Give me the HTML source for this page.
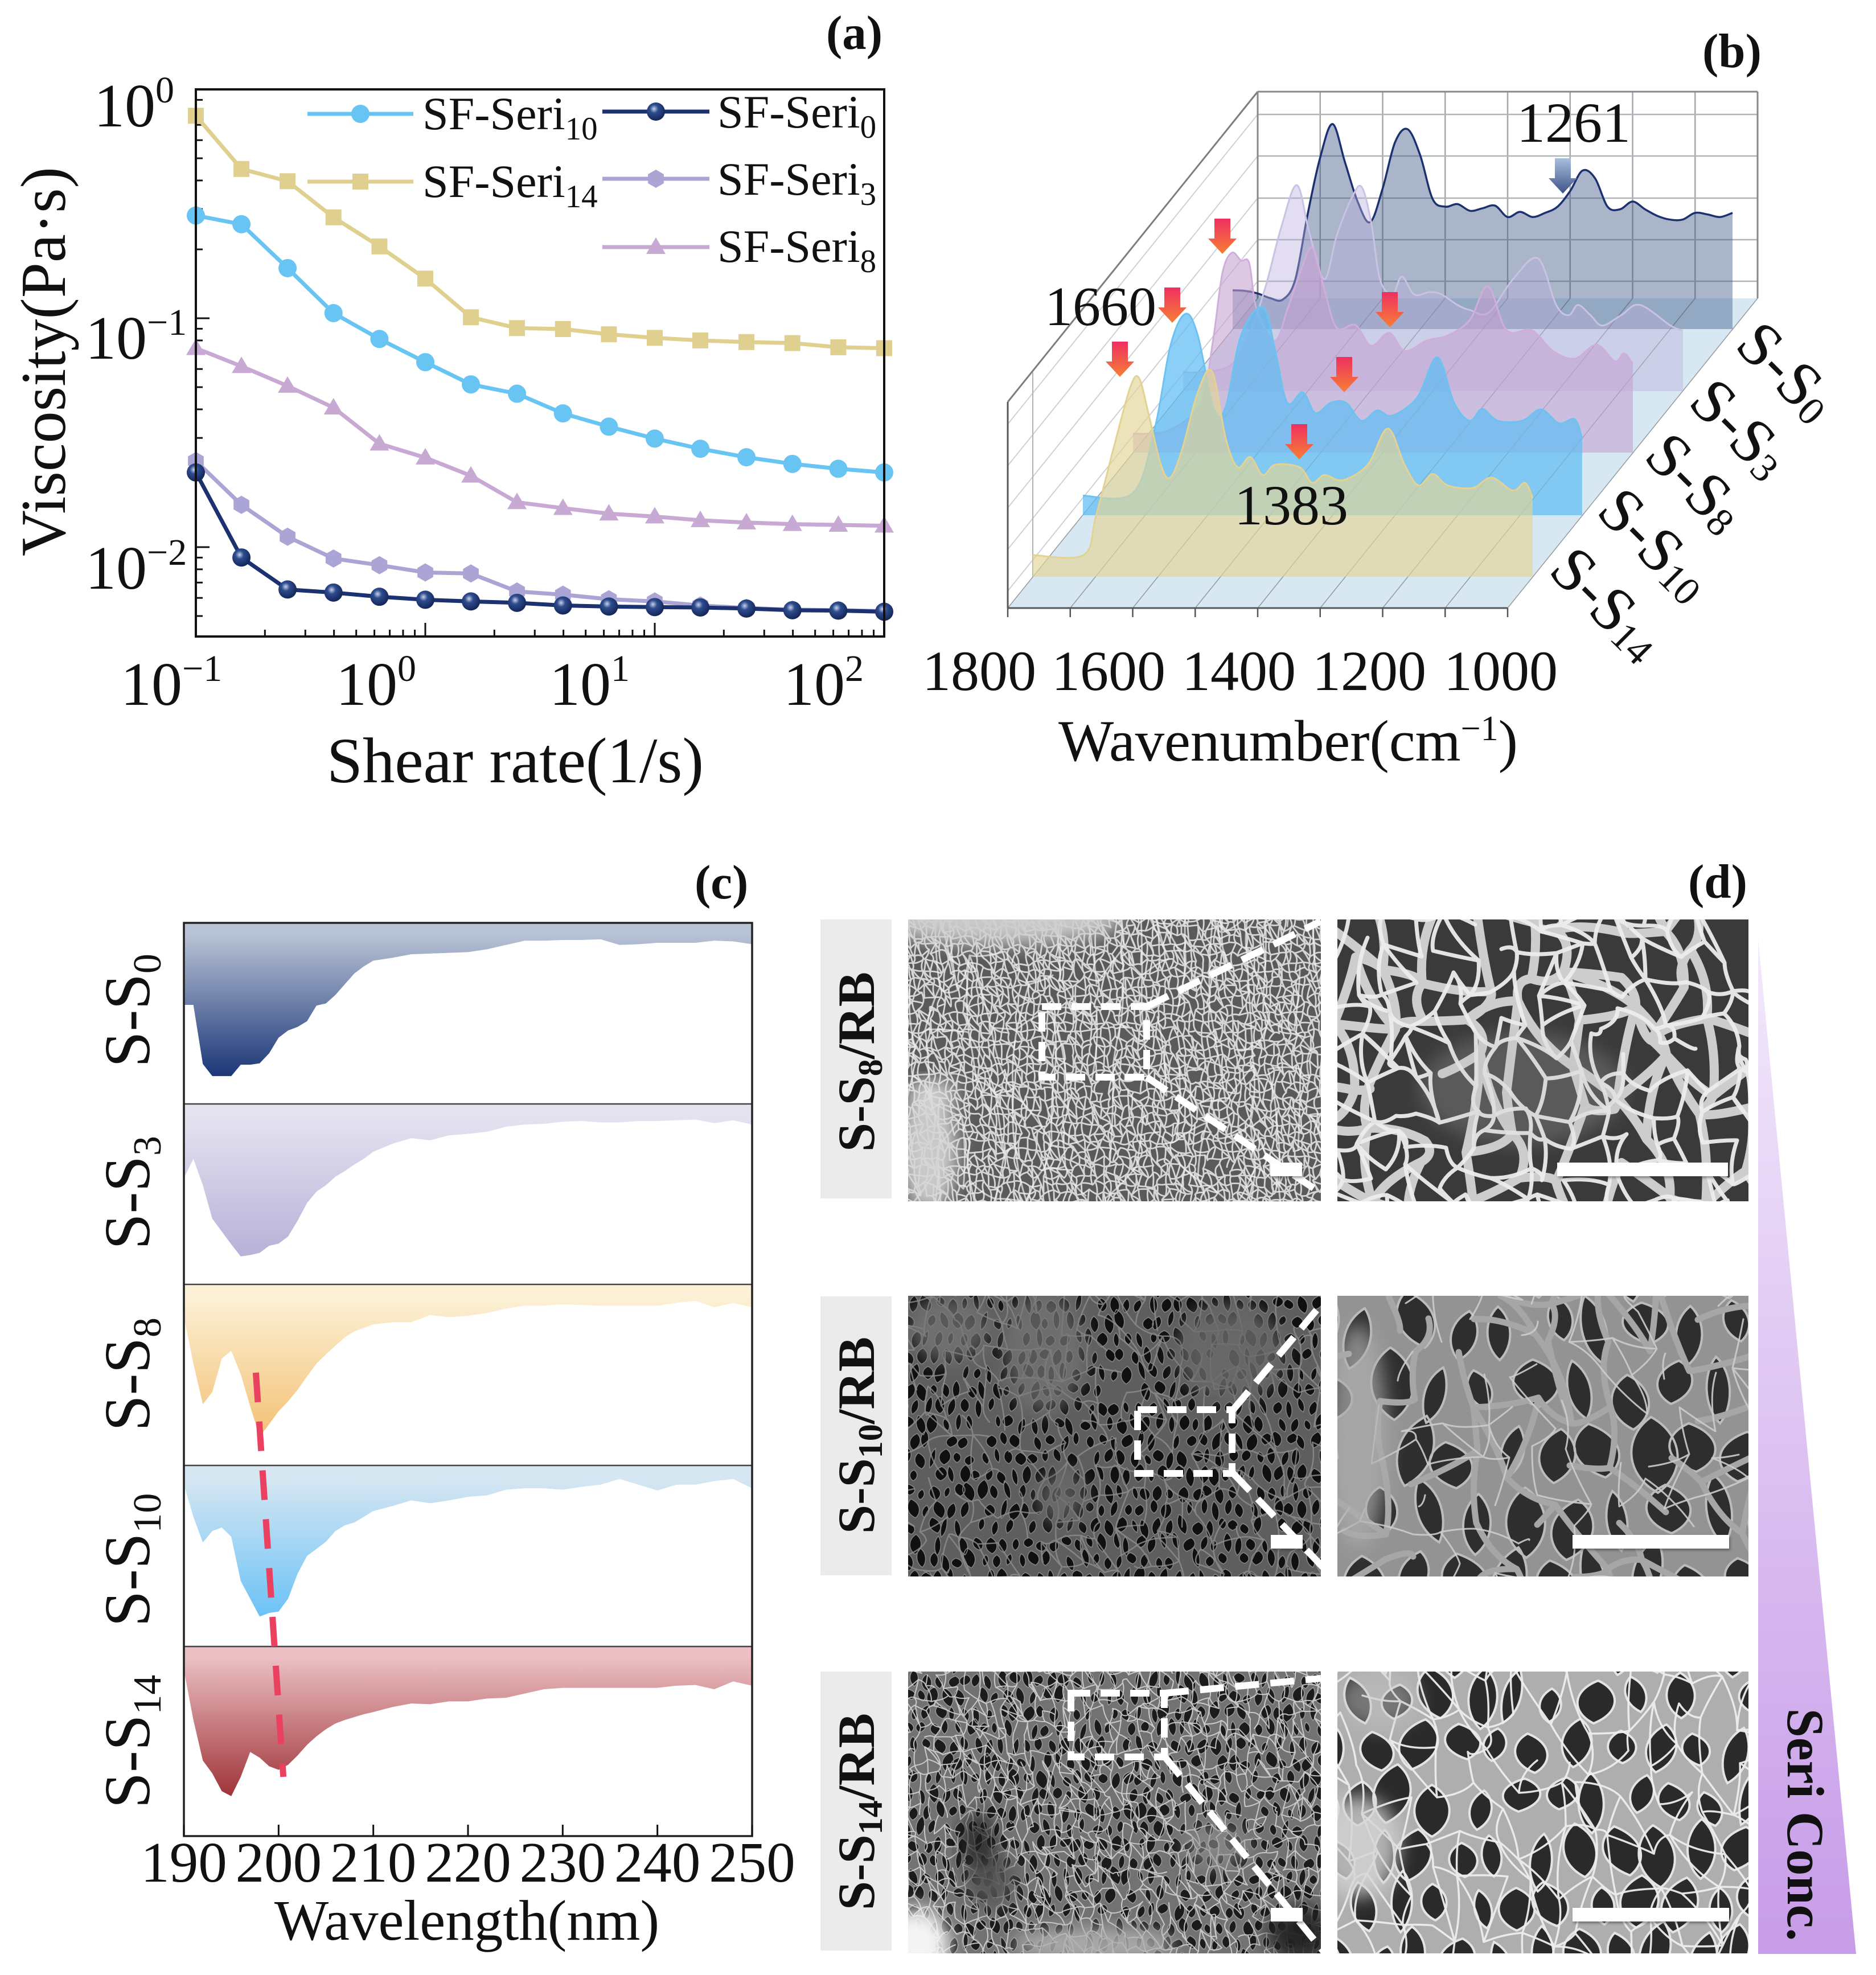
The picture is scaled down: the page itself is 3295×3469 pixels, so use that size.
<!DOCTYPE html>
<html lang="en">
<head>
<meta charset="utf-8">
<title>Silk fibroin sericin composite characterisation</title>
<style>
html,body{margin:0;padding:0;background:#fff;}
svg{display:block;}
text{font-family:"Liberation Serif",serif;fill:#111;}
</style>
</head>
<body>
<svg id="fig" xmlns="http://www.w3.org/2000/svg" width="3295" height="3469" viewBox="0 0 3295 3469">
<defs>
<radialGradient id="navyBall" cx="40%" cy="35%" r="65%"><stop offset="0" stop-color="#c8d2ea"/><stop offset="0.35" stop-color="#2e4c8e"/><stop offset="1" stop-color="#142659"/></radialGradient>
<linearGradient id="redArrow" x1="0" y1="0" x2="0" y2="1"><stop offset="0" stop-color="#ee3060"/><stop offset="1" stop-color="#f77f35"/></linearGradient>
<linearGradient id="blueArrow" x1="0" y1="0" x2="0" y2="1"><stop offset="0" stop-color="#a9bfdd"/><stop offset="1" stop-color="#3c5488"/></linearGradient>
<linearGradient id="wedgeFill" x1="0" y1="0" x2="0" y2="1"><stop offset="0" stop-color="#f2e9fb"/><stop offset="1" stop-color="#c79ce8"/></linearGradient>
<filter id="softBlur" x="-30%" y="-30%" width="160%" height="160%"><feGaussianBlur stdDeviation="16"/></filter>
<filter id="barShadow" x="-10%" y="-30%" width="120%" height="170%"><feDropShadow dx="2" dy="3" stdDeviation="2" flood-color="#333" flood-opacity="0.5"/></filter>
</defs>

<g id="panelA">
  <text x="1451" y="86" font-size="85" font-weight="bold">(a)</text>
  <g id="aPlot"></g>
  <rect x="344" y="157" width="1209" height="961" fill="none" stroke="#111" stroke-width="4"/>
  <text x="165" y="222" font-size="108">10<tspan dy="-42" font-size="66">0</tspan></text>
  <text x="150" y="630" font-size="108">10<tspan dy="-42" font-size="66">−1</tspan></text>
  <text x="150" y="1034" font-size="108">10<tspan dy="-42" font-size="66">−2</tspan></text>
  <text x="212" y="1238" font-size="108">10<tspan dy="-42" font-size="66">−1</tspan></text>
  <text x="590" y="1238" font-size="108">10<tspan dy="-42" font-size="66">0</tspan></text>
  <text x="965" y="1238" font-size="108">10<tspan dy="-42" font-size="66">1</tspan></text>
  <text x="1376" y="1238" font-size="108">10<tspan dy="-42" font-size="66">2</tspan></text>
  <text transform="translate(114,635) rotate(-90)" text-anchor="middle" font-size="112">Viscosity(Pa·s)</text>
  <text x="905" y="1374" text-anchor="middle" font-size="113">Shear rate(1/s)</text>
  <g id="aLegend">
    <text x="742" y="227" font-size="82">SF-Seri<tspan dy="18" font-size="57">10</tspan></text>
    <text x="742" y="346" font-size="82">SF-Seri<tspan dy="18" font-size="57">14</tspan></text>
    <text x="1260" y="224" font-size="82">SF-Seri<tspan dy="18" font-size="57">0</tspan></text>
    <text x="1260" y="342" font-size="82">SF-Seri<tspan dy="18" font-size="57">3</tspan></text>
    <text x="1260" y="460" font-size="82">SF-Seri<tspan dy="18" font-size="57">8</tspan></text>
  </g>
</g>

<g id="panelB">
  <text x="2990" y="118" font-size="85" font-weight="bold">(b)</text>
  <polygon points="1770,1068 2648,1068 3087,524 2209,524" fill="#d7e8f2"/>
  <g id="bGrid"></g>
  <g id="bSeries"></g>
  <g id="bArrows"></g>
  <text x="1835" y="571" font-size="98">1660</text>
  <text x="2664" y="249" font-size="100">1261</text>
  <text x="2168" y="921" font-size="100">1383</text>
  <text x="1620" y="1212" font-size="100">1800</text>
  <text x="1847" y="1212" font-size="100">1600</text>
  <text x="2076" y="1212" font-size="100">1400</text>
  <text x="2305" y="1212" font-size="100">1200</text>
  <text x="2536" y="1212" font-size="100">1000</text>
  <text x="1859" y="1336" font-size="103">Wavenumber(cm<tspan dy="-36" font-size="62">−1</tspan><tspan dy="36">)</tspan></text>
  <text transform="translate(3139,652) rotate(45)" text-anchor="middle" dominant-baseline="central" font-size="110">S-S<tspan dy="20" font-size="70">0</tspan></text>
  <text transform="translate(3057,752) rotate(45)" text-anchor="middle" dominant-baseline="central" font-size="110">S-S<tspan dy="20" font-size="70">3</tspan></text>
  <text transform="translate(2979,847) rotate(45)" text-anchor="middle" dominant-baseline="central" font-size="110">S-S<tspan dy="20" font-size="70">8</tspan></text>
  <text transform="translate(2908,956) rotate(45)" text-anchor="middle" dominant-baseline="central" font-size="110">S-S<tspan dy="20" font-size="70">10</tspan></text>
  <text transform="translate(2824,1060) rotate(45)" text-anchor="middle" dominant-baseline="central" font-size="110">S-S<tspan dy="20" font-size="70">14</tspan></text>
</g>

<g id="panelC">
  <text x="1220" y="1578" font-size="85" font-weight="bold">(c)</text>
  <g id="cPlot"></g>
  <text transform="translate(262,1775) rotate(-90)" text-anchor="middle" font-size="114">S-S<tspan dy="20" font-size="70">0</tspan></text>
  <text transform="translate(262,2095) rotate(-90)" text-anchor="middle" font-size="114">S-S<tspan dy="20" font-size="70">3</tspan></text>
  <text transform="translate(262,2414) rotate(-90)" text-anchor="middle" font-size="114">S-S<tspan dy="20" font-size="70">8</tspan></text>
  <text transform="translate(262,2740) rotate(-90)" text-anchor="middle" font-size="114">S-S<tspan dy="20" font-size="70">10</tspan></text>
  <text transform="translate(262,3059) rotate(-90)" text-anchor="middle" font-size="114">S-S<tspan dy="20" font-size="70">14</tspan></text>
  <text x="820" y="3407" text-anchor="middle" font-size="101">Wavelength(nm)</text>
</g>

<g id="panelD">
  <text x="2965" y="1577" font-size="85" font-weight="bold">(d)</text>
  <rect x="1441" y="1615" width="125" height="490" fill="#ebebeb"/>
  <rect x="1441" y="2277" width="125" height="490" fill="#ebebeb"/>
  <rect x="1441" y="2936" width="125" height="490" fill="#ebebeb"/>
  <text transform="translate(1535,1865) rotate(-90)" text-anchor="middle" font-size="92" font-weight="bold">S-S<tspan dy="14" font-size="60">8</tspan><tspan dy="-14">/RB</tspan></text>
  <text transform="translate(1535,2521) rotate(-90)" text-anchor="middle" font-size="92" font-weight="bold">S-S<tspan dy="14" font-size="60">10</tspan><tspan dy="-14">/RB</tspan></text>
  <text transform="translate(1535,3182) rotate(-90)" text-anchor="middle" font-size="92" font-weight="bold">S-S<tspan dy="14" font-size="60">14</tspan><tspan dy="-14">/RB</tspan></text>
  <g id="semImages"></g>
  <g fill="none" stroke="#fff" stroke-width="12">
    <rect x="1830" y="1768" width="184" height="124" stroke-dasharray="34 18"/>
    <line x1="2014" y1="1768" x2="2320" y2="1618" stroke-dasharray="42 20"/>
    <line x1="2014" y1="1892" x2="2345" y2="2112" stroke-dasharray="42 20"/>
    <rect x="1998" y="2476" width="166" height="112" stroke-dasharray="34 18"/>
    <line x1="2166" y1="2476" x2="2320" y2="2292" stroke-dasharray="42 20"/>
    <line x1="2166" y1="2588" x2="2345" y2="2775" stroke-dasharray="42 20"/>
    <rect x="1881" y="2974" width="164" height="112" stroke-dasharray="34 18"/>
    <line x1="2046" y1="2974" x2="2320" y2="2948" stroke-dasharray="42 20"/>
    <line x1="2046" y1="3086" x2="2325" y2="3428" stroke-dasharray="42 20"/>
  </g>
  <g fill="#fff" filter="url(#barShadow)">
    <rect x="2231" y="2042" width="56" height="24"/>
    <rect x="2735" y="2042" width="300" height="24"/>
    <rect x="2232" y="2696" width="56" height="24"/>
    <rect x="2762" y="2696" width="275" height="24"/>
    <rect x="2232" y="3351" width="56" height="24"/>
    <rect x="2762" y="3351" width="275" height="24"/>
  </g>
  <polygon points="3088,1650 3260,3432 3088,3432" fill="url(#wedgeFill)"/>
  <text transform="translate(3140,3205) rotate(90)" text-anchor="middle" font-size="92" font-weight="bold">Seri Conc.</text>
</g>

<script>
// ---------- Panel (a): viscosity vs shear rate ----------
const shearRates = [0.1,0.158,0.251,0.398,0.631,1,1.58,2.51,3.98,6.31,10,15.8,25.1,39.8,63.1,100];
const viscositySeri14 = [0.767,0.449,0.397,0.276,0.206,0.149,0.101,0.0906,0.0897,0.0851,0.0821,0.08,0.0787,0.0779,0.0747,0.074];
const viscositySeri10 = [0.281,0.2575,0.1656,0.1053,0.0812,0.0643,0.0514,0.0468,0.0384,0.0336,0.0298,0.0269,0.0247,0.0231,0.022,0.0212];
const viscositySeri8 = [0.074,0.0617,0.0506,0.0407,0.0283,0.0246,0.0205,0.0157,0.0148,0.014,0.0136,0.0131,0.0128,0.0126,0.0125,0.0124];
const viscositySeri3 = [0.0238,0.0153,0.0111,0.00892,0.00834,0.00775,0.00767,0.0064,0.0062,0.00592,0.00579,0.00556,0.00542,0.00533,0.0053,0.00525];
const viscositySeri0 = [0.0212,0.00901,0.00653,0.00633,0.00607,0.00589,0.00579,0.00571,0.00556,0.0055,0.00547,0.00545,0.00539,0.0053,0.00528,0.00522];

// ---------- Panel (b): FTIR waterfall (wavenumber / intensity pairs) ----------
const waveS0 = [1800,1780,1760,1740,1720,1700,1680,1660,1640,1620,1600,1580,1560,1540,1520,1500,1480,1460,1440,1420,1400,1380,1360,1340,1320,1300,1280,1260,1240,1220,1200,1180,1160,1140,1120,1100,1080,1060,1040,1020,1000];
const intensityS0 = [75,74,69,60,57,95,222,332,397,322,247,207,272,362,387,337,252,237,242,229,234,239,217,227,217,225,237,267,307,292,237,232,247,232,219,212,212,225,222,217,225];
const waveS3 = [1800,1771,1722,1692,1667,1643,1618,1598,1574,1554,1529,1514,1499,1485,1465,1450,1430,1405,1386,1361,1341,1311,1272,1232,1203,1183,1168,1148,1129,1099,1069,1020,1000];
const intensityS3 = [37,37,52,117,207,317,399,307,217,302,377,395,327,217,187,222,187,192,187,167,157,152,217,257,167,147,167,147,127,147,167,127,117];
const waveS8 = [1800,1775,1736,1691,1672,1657,1642,1627,1614,1602,1573,1553,1533,1513,1494,1474,1444,1419,1390,1365,1330,1296,1261,1232,1202,1162,1128,1093,1058,1029,1014,1000];
const intensityS8 = [37,37,47,97,217,347,387,372,367,277,217,277,347,397,317,242,247,207,232,197,217,227,257,322,237,237,197,182,209,177,192,172];
const waveS10 = [1800,1720,1685,1660,1636,1616,1591,1572,1547,1512,1492,1473,1448,1428,1403,1379,1354,1329,1305,1265,1233,1206,1181,1161,1136,1097,1067,1038,1013,1001];
const intensityS10 = [38,43,168,328,390,348,208,208,348,403,318,218,238,198,218,218,183,203,193,228,306,218,183,206,183,183,205,178,186,148];
const waveS14 = [1800,1719,1699,1669,1644,1630,1615,1595,1580,1561,1536,1513,1491,1472,1452,1432,1412,1373,1353,1333,1304,1264,1232,1205,1183,1160,1136,1096,1066,1032,1012,1000];
const intensityS14 = [42,42,117,257,367,385,317,217,192,247,357,397,267,212,232,197,217,212,182,197,187,217,287,217,177,199,177,172,192,167,182,152];
const ftirGridWavenumbers = [1800,1700,1600,1500,1400,1300,1200,1100,1000];

// ---------- Panel (c): CD spectra (depth below each row's baseline) ----------
const wavelengths = [190,191,192,193,194,195,196,197,198,199,200,201,202,203,204,205,206,207,208,209,210,212,214,216,218,220,222,224,226,228,230,232,234,236,238,240,242,244,246,248,250];
const cdS0 = [115,115,198,215,215,215,199,199,197,183,161,151,146,138,116,113,101,86,71,61,53,49,44,43,42,41,37,31,25,25,24,24,23,31,30,28,28,28,25,26,30];
const cdS3 = [104,77,114,161,179,197,214,212,209,199,196,186,164,139,123,114,102,94,85,77,67,56,48,51,44,42,39,32,29,28,25,24,26,26,24,24,23,22,27,23,29];
const cdS8 = [46,111,168,151,104,93,126,171,214,196,178,164,148,129,111,98,86,74,66,61,56,53,53,43,46,44,40,34,30,30,28,29,30,30,30,30,26,23,32,26,32];
const cdS10 = [27,72,108,92,87,100,162,187,212,207,205,187,152,127,117,107,92,84,80,72,64,57,49,53,49,44,42,34,32,32,34,30,27,19,27,35,27,27,22,19,32];
const cdS14 = [33,103,160,178,203,210,183,148,156,168,173,166,153,138,126,116,108,103,99,95,92,85,80,81,77,77,73,72,66,60,58,58,58,58,58,58,55,54,60,49,55];
const cdTickLabels = [190,200,210,220,230,240,250];
const cdPeakTrend = [197.6,200.5];

const NS = 'http://www.w3.org/2000/svg';
function mk(parent, tag, attrs) {
  const el = document.createElementNS(NS, tag);
  for (const k in attrs) el.setAttribute(k, attrs[k]);
  parent.appendChild(el);
  return el;
}

// ===== Panel A =====
const xA = v => 344 + (Math.log10(v) + 1) * 1209 / 3;
const yA = v => 157 - Math.log10(v) * 402;
const aPlot = document.getElementById('aPlot');
const aLegend = document.getElementById('aLegend');

function drawMarker(parent, kind, x, y, color) {
  let m;
  if (kind === 'circle') m = mk(parent, 'circle', {cx: x, cy: y, r: 16, fill: color});
  if (kind === 'ball') m = mk(parent, 'circle', {cx: x, cy: y, r: 16, fill: 'url(#navyBall)'});
  if (kind === 'square') m = mk(parent, 'rect', {x: x - 14, y: y - 14, width: 28, height: 28, fill: color});
  if (kind === 'triangle') m = mk(parent, 'polygon', {points: (x) + ',' + (y - 17) + ' ' + (x + 17) + ',' + (y + 12) + ' ' + (x - 17) + ',' + (y + 12), fill: color});
  if (kind === 'hexagon') m = mk(parent, 'polygon', {points: [0,1,2,3,4,5].map(i => (x + 16 * Math.sin(i * Math.PI / 3)) + ',' + (y - 16 * Math.cos(i * Math.PI / 3))).join(' '), fill: color});
  
  
}

const aSeries = [
  {vals: viscositySeri14, color: '#e0d08f', kind: 'square'},
  {vals: viscositySeri10, color: '#68c4f2', kind: 'circle'},
  {vals: viscositySeri8, color: '#c7a9d3', kind: 'triangle'},
  {vals: viscositySeri3, color: '#aaa5d4', kind: 'hexagon'},
  {vals: viscositySeri0, color: '#1b3170', kind: 'ball'}
];
[0.2,0.3,0.4,0.5,0.6,0.7,0.8,0.9,1,2,3,4,5,6,7,8,9,10,20,30,40,50,60,70,80,90].forEach(t => {
  const major = t === 1 || t === 10;
  const tick = mk(aPlot, 'line', {x1: xA(t), x2: xA(t), y1: 1118, y2: 1118 - (major ? 24 : 12), stroke: '#111', 'stroke-width': 3});
  
  
});
[0.9,0.8,0.7,0.6,0.5,0.4,0.3,0.2,0.1,0.09,0.08,0.07,0.06,0.05,0.04,0.03,0.02,0.01,0.009,0.008,0.007,0.006,0.005].forEach(t => {
  const major = t === 0.1 || t === 0.01;
  const tick = mk(aPlot, 'line', {x1: 344, x2: 344 + (major ? 24 : 12), y1: yA(t), y2: yA(t), stroke: '#111', 'stroke-width': 3});
  
  
});
aSeries.forEach(s => {
  const pts = s.vals.map((v, i) => xA(shearRates[i]) + ',' + yA(v)).join(' ');
  const line = mk(aPlot, 'polyline', {points: pts, fill: 'none', stroke: s.color, 'stroke-width': 7});
  
  
  s.vals.forEach((v, i) => drawMarker(aPlot, s.kind, xA(shearRates[i]), yA(v), s.color));
});
function legendKey(x1, x2, y, color, kind) {
  const l = mk(aLegend, 'line', {x1: x1, x2: x2, y1: y, y2: y, stroke: color, 'stroke-width': 7});
  
  
  drawMarker(aLegend, kind, (x1 + x2) / 2, y, color);
}
legendKey(540, 726, 200, '#68c4f2', 'circle');
legendKey(540, 726, 319, '#e0d08f', 'square');
legendKey(1058, 1246, 196, '#1b3170', 'ball');
legendKey(1058, 1246, 314, '#aaa5d4', 'hexagon');
legendKey(1058, 1246, 434, '#c7a9d3', 'triangle');

// ===== Panel B =====
const bGrid = document.getElementById('bGrid');
const bSeries = document.getElementById('bSeries');
const bArrows = document.getElementById('bArrows');
const xB = w => (1800 - w) / 800 * 878;
const kB = 0.907;
function gridLine(x1, y1, x2, y2, color, w) {
  const g = mk(bGrid, 'line', {x1: x1, y1: y1, x2: x2, y2: y2, stroke: color, 'stroke-width': w});
  
  
}
ftirGridWavenumbers.forEach(w => {
  gridLine(2209 + xB(w), 161, 2209 + xB(w), 524, '#a4a9ae', 2.5);
  gridLine(1770 + xB(w), 1068, 2209 + xB(w), 524, '#96999d', 1.5);
  gridLine(1770 + xB(w), 1068, 1770 + xB(w), 1084, '#555', 2.5);
});
[201,274,348,421,494].forEach(y => gridLine(2209, y, 3087, y, '#b0b5ba', 2.5));
[201,274,348,421,494].forEach(y => gridLine(2209, y, 1770, y + 544, '#cfd1d4', 2));
[161].forEach(y => gridLine(2209, y, 3087, y, '#85898d', 3));
gridLine(1770, 706, 2209, 161, '#7a7e82', 3);
gridLine(1770, 706, 1770, 1068, '#55585b', 3);
gridLine(3087, 161, 3087, 524, '#85898d', 3);
gridLine(2209, 161, 2209, 524, '#85898d', 3);
gridLine(1770, 1068, 2648, 1068, '#55585b', 3);
gridLine(1814, 654, 1814, 1013, '#b0b3b6', 2);

// Catmull-Rom spline through measured points
function splineThrough(pts) {
  let d = 'M' + pts[0][0].toFixed(1) + ' ' + pts[0][1].toFixed(1);
  for (let i = 0; i < pts.length - 1; i++) {
    const p0 = pts[Math.max(0, i - 1)], p1 = pts[i], p2 = pts[i + 1], p3 = pts[Math.min(pts.length - 1, i + 2)];
    const c1x = p1[0] + (p2[0] - p0[0]) / 6, c1y = p1[1] + (p2[1] - p0[1]) / 6;
    const c2x = p2[0] - (p3[0] - p1[0]) / 6, c2y = p2[1] - (p3[1] - p1[1]) / 6;
    d += 'C' + c1x.toFixed(1) + ' ' + c1y.toFixed(1) + ' ' + c2x.toFixed(1) + ' ' + c2y.toFixed(1) + ' ' + p2[0].toFixed(1) + ' ' + p2[1].toFixed(1);
  }
  return d;
}
const bData = [
  {wave: waveS0, vals: intensityS0, x0: 2165, base: 578, fill: 'rgba(52,78,128,0.42)', stroke: '#1b3170', sw: 3.5},
  {wave: waveS3, vals: intensityS3, x0: 2078, base: 687, fill: 'rgba(186,174,220,0.42)', stroke: '#c9c2e2', sw: 3},
  {wave: waveS8, vals: intensityS8, x0: 1990, base: 795, fill: 'rgba(197,160,208,0.58)', stroke: '#cfaedb', sw: 3},
  {wave: waveS10, vals: intensityS10, x0: 1902, base: 905, fill: 'rgba(96,188,242,0.72)', stroke: '#6cc3f2', sw: 3},
  {wave: waveS14, vals: intensityS14, x0: 1814, base: 1013, fill: 'rgba(226,212,150,0.66)', stroke: '#e3d291', sw: 3}
];
bData.forEach(s => {
  const pts = s.vals.map((h, i) => [s.x0 + xB(s.wave[i]), s.base - h * kB]);
  const curve = splineThrough(pts);
  const last = pts[pts.length - 1];
  const area = mk(bSeries, 'path', {d: curve + 'L' + last[0] + ' ' + s.base + 'L' + pts[0][0] + ' ' + s.base + 'Z', fill: s.fill});
  
  
  const line = mk(bSeries, 'path', {d: curve, fill: 'none', stroke: s.stroke, 'stroke-width': s.sw, 'stroke-linejoin': 'round'});
  
  
});
function arrow(cx, cy, fill) {
  const a = mk(bArrows, 'polygon', {points: [[-14,-31],[14,-31],[14,4],[25,4],[0,31],[-25,4],[-14,4]].map(p => (cx + p[0]) + ',' + (cy + p[1])).join(' '), fill: fill});
  
  
}
arrow(2147, 415, 'url(#redArrow)');
arrow(2059, 536, 'url(#redArrow)');
arrow(1967, 631, 'url(#redArrow)');
arrow(2441, 544, 'url(#redArrow)');
arrow(2361, 658, 'url(#redArrow)');
arrow(2282, 776, 'url(#redArrow)');
arrow(2745, 309, 'url(#blueArrow)');

// ===== Panel C =====
const cPlot = document.getElementById('cPlot');
const defs = document.querySelector('defs');
const xC = w => 323 + (w - 190) * 998 / 60;
const kC = 1.252;
const cRows = [
  {vals: cdS0, top: 1621, c1: '#b9c3d6', c2: '#1a3577', id: 'cdGrad0'},
  {vals: cdS3, top: 1939, c1: '#e5e3f0', c2: '#b7b0d8', id: 'cdGrad3'},
  {vals: cdS8, top: 2256, c1: '#fcf1d6', c2: '#f3c073', id: 'cdGrad8'},
  {vals: cdS10, top: 2574, c1: '#d7e7f2', c2: '#68c1f6', id: 'cdGrad10'},
  {vals: cdS14, top: 2892, c1: '#ebbfc3', c2: '#9c2f34', id: 'cdGrad14'}
];
cRows.forEach(r => {
  const g = mk(defs, 'linearGradient', {id: r.id, gradientUnits: 'userSpaceOnUse', x1: 0, y1: r.top + 20, x2: 0, y2: r.top + 272});
  mk(g, 'stop', {offset: 0, 'stop-color': r.c1});
  mk(g, 'stop', {offset: 1, 'stop-color': r.c2});
  const pts = r.vals.map((d, i) => xC(wavelengths[i]) + ',' + (r.top + d * kC)).join(' ');
  const area = mk(cPlot, 'polygon', {points: xC(190) + ',' + r.top + ' ' + pts + ' ' + xC(250) + ',' + r.top, fill: 'url(#' + r.id + ')'});
  
  
  const sep = mk(cPlot, 'line', {x1: 323, x2: 1321, y1: r.top, y2: r.top, stroke: '#444', 'stroke-width': 2.5});
  
  
});
const cFrame = mk(cPlot, 'rect', {x: 323, y: 1621, width: 998, height: 1604, fill: 'none', stroke: '#222', 'stroke-width': 3.5});


cdTickLabels.forEach(t => {
  const tick = mk(cPlot, 'line', {x1: xC(t), x2: xC(t), y1: 3225, y2: 3205, stroke: '#111', 'stroke-width': 3});
  
  
  const lab = mk(cPlot, 'text', {x: xC(t), y: 3305, 'text-anchor': 'middle', 'font-size': 101});
  lab.textContent = t;
  
  
});
const trend = mk(cPlot, 'line', {x1: xC(cdPeakTrend[0]), y1: 2411, x2: xC(cdPeakTrend[1]), y2: 3121, stroke: '#e9415f', 'stroke-width': 11, 'stroke-dasharray': '52 34'});



// ===== Panel D: procedural SEM micrograph texture (lens pores + fibre mesh) =====
const semHost = document.getElementById('semImages');
function semImage(idx, X, Y, W, H, o) {
  let seed = 12345 + idx * 7919;
  const rnd = () => { seed = (seed * 1103515245 + 12345) & 0x7fffffff; return seed / 0x7fffffff; };
  const cp = mk(defs, 'clipPath', {id: 'semClip' + idx});
  mk(cp, 'rect', {x: X, y: Y, width: W, height: H});
  const g = mk(semHost, 'g', {'clip-path': 'url(#semClip' + idx + ')'});
  
  
  mk(g, 'rect', {x: X, y: Y, width: W, height: H, fill: o.base});
  (o.lenses || []).forEach(L => {
    let d = '';
    for (let r = -1; r * L.cy < H + L.cy; r++) {
      for (let c = -1; c * L.cx < W + L.cx; c++) {
        if (rnd() < (L.skip || 0)) continue;
        const px = X + (c + 0.5 + (r % 2 ? 0.5 : 0)) * L.cx + (rnd() - 0.5) * L.cx * 0.35;
        const py = Y + (r + 0.5) * L.cy + (rnd() - 0.5) * L.cy * 0.35;
        const hw = L.cx * L.size * (0.55 + rnd() * 0.7);
        const hh = L.cy * L.size * (0.7 + rnd() * 0.7);
        const tilt = (rnd() - 0.5) * hh * 0.7;
        d += 'M' + (px + tilt).toFixed(0) + ' ' + (py - hh).toFixed(0) + 'C' + (px + hw * 1.2).toFixed(0) + ' ' + (py - hh * 0.5).toFixed(0) + ' ' + (px + hw * 1.2).toFixed(0) + ' ' + (py + hh * 0.5).toFixed(0) + ' ' + (px - tilt).toFixed(0) + ' ' + (py + hh).toFixed(0) + 'C' + (px - hw * 1.2).toFixed(0) + ' ' + (py + hh * 0.5).toFixed(0) + ' ' + (px - hw * 1.2).toFixed(0) + ' ' + (py - hh * 0.5).toFixed(0) + ' ' + (px + tilt).toFixed(0) + ' ' + (py - hh).toFixed(0) + 'Z';
      }
    }
    const pores = mk(g, 'path', {d: d, fill: L.color, stroke: L.rim, 'stroke-width': L.rimW});
    
    
  });
  o.mesh.forEach(m => {
    const cols = Math.ceil(W / m.cx) + 3, rows = Math.ceil(H / m.cy) + 3;
    const nodes = [];
    for (let r = 0; r < rows; r++) {
      nodes.push([]);
      for (let c = 0; c < cols; c++) {
        nodes[r].push([X + (c - 1) * m.cx + (rnd() - 0.5) * m.cx * 0.9, Y + (r - 1) * m.cy + (rnd() - 0.5) * m.cy * 0.9]);
      }
    }
    let d = '';
    const bend = m.bend || 0.35;
    const edge = (a, b) => {
      if (rnd() < m.drop) return;
      const bx = (rnd() - 0.5) * m.cx * bend, by = (rnd() - 0.5) * m.cy * bend * 0.6;
      d += 'M' + a[0].toFixed(0) + ' ' + a[1].toFixed(0) + 'Q' + ((a[0] + b[0]) / 2 + bx).toFixed(0) + ' ' + ((a[1] + b[1]) / 2 + by).toFixed(0) + ' ' + b[0].toFixed(0) + ' ' + b[1].toFixed(0);
    };
    for (let r = 0; r < rows; r++) {
      for (let c = 0; c < cols; c++) {
        if (c + 1 < cols) edge(nodes[r][c], nodes[r][c + 1]);
        if (r + 1 < rows) edge(nodes[r][c], nodes[r + 1][c]);
        if (r + 1 < rows && c + 1 < cols && rnd() < 0.35) edge(nodes[r][c], nodes[r + 1][c + 1]);
      }
    }
    const fib = mk(g, 'path', {d: d, fill: 'none', stroke: m.color, 'stroke-width': m.w, 'stroke-linecap': 'round', opacity: m.op});
    
    
  });
  o.patches.forEach(p => {
    const e = mk(g, 'ellipse', {cx: X + p[0] * W, cy: Y + p[1] * H, rx: p[2] * W, ry: p[3] * H, fill: p[4], filter: 'url(#softBlur)', opacity: p[5]});
    
    
  });
}
semImage(0, 1595, 1615, 725, 495, {base: '#5a5a5a',
  mesh: [{cx: 11, cy: 15, w: 2.8, color: '#e2e2e2', op: 0.9, drop: 0.06, bend: 0.8}, {cx: 40, cy: 95, w: 3, color: '#f0f0f0', op: 0.7, drop: 0.45, bend: 0.5}],
  patches: [[0.22,0.0,0.3,0.09,'#cfcfcf',0.95],[0.05,0.82,0.07,0.22,'#d6d6d6',0.9],[0.06,0.62,0.06,0.05,'#dddddd',0.8]]});
semImage(1, 2349, 1615, 722, 495, {base: '#3a3a3a',
  mesh: [{cx: 82, cy: 92, w: 16, color: '#cdcdcd', op: 1, drop: 0.28, bend: 0.7}, {cx: 46, cy: 56, w: 7, color: '#ececec', op: 0.95, drop: 0.32, bend: 0.7}],
  patches: [[0.45,0.6,0.25,0.2,'#bbbbbb',0.25]]});
semImage(2, 1595, 2276, 725, 493, {base: '#5e5e5e',
  lenses: [{cx: 22, cy: 30, size: 0.42, color: '#101010', rim: '#858585', rimW: 1.5, skip: 0.06}],
  mesh: [{cx: 34, cy: 44, w: 2.5, color: '#8f8f8f', op: 0.8, drop: 0.4, bend: 0.6}],
  patches: [[0.78,0.2,0.13,0.17,'#6b6b6b',0.8],[0.33,0.2,0.1,0.22,'#767676',0.7],[0.1,0.12,0.1,0.12,'#777777',0.7],[0.37,0.72,0.06,0.1,'#6d6d6d',0.7]]});
semImage(3, 2349, 2276, 722, 493, {base: '#939393',
  lenses: [{cx: 84, cy: 112, size: 0.43, color: '#2e2e2e', rim: '#bcbcbc', rimW: 4, skip: 0.04}],
  mesh: [{cx: 80, cy: 100, w: 11, color: '#a6a6a6', op: 1, drop: 0.62, bend: 0.6}, {cx: 60, cy: 70, w: 3, color: '#cccccc', op: 0.9, drop: 0.72, bend: 0.5}],
  patches: [[0.05,0.5,0.07,0.4,'#aeaeae',0.7]]});
semImage(4, 1595, 2936, 725, 495, {base: '#727272',
  lenses: [{cx: 22, cy: 29, size: 0.42, color: '#1b1b1b', rim: '#999999', rimW: 1.5, skip: 0.06}],
  mesh: [{cx: 17, cy: 23, w: 2, color: '#d8d8d8', op: 0.85, drop: 0.3, bend: 0.7}],
  patches: [[0.02,0.97,0.08,0.13,'#f4f4f4',1],[0.45,0.97,0.2,0.06,'#b0b0b0',0.9],[0.2,0.74,0.06,0.1,'#555555',0.9],[0.17,0.6,0.04,0.1,'#1c1c1c',0.8],[0.95,0.93,0.08,0.1,'#222222',0.95],[0.75,0.62,0.08,0.08,'#909090',0.6]]});
semImage(5, 2349, 2936, 722, 495, {base: '#aeaeae',
  lenses: [{cx: 70, cy: 92, size: 0.43, color: '#2a2a2a', rim: '#e4e4e4', rimW: 4, skip: 0.03}],
  mesh: [{cx: 55, cy: 75, w: 3.5, color: '#ededed', op: 0.95, drop: 0.3, bend: 0.6}],
  patches: [[0.05,0.62,0.1,0.18,'#d4d4d4',0.8],[0.1,0.1,0.1,0.1,'#c2c2c2',0.5]]});
</script>
</svg>
</body>
</html>
